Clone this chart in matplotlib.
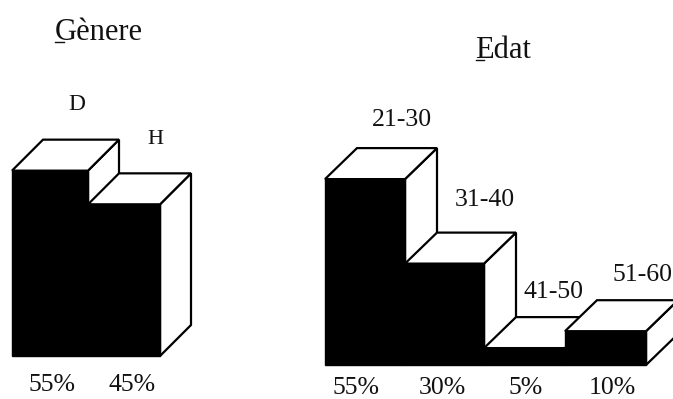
import matplotlib
matplotlib.use("Agg")
import matplotlib.pyplot as plt

plt.rcParams['font.family'] = ['Liberation Serif', 'DejaVu Serif']

gender_labels = ["D", "H"]
gender_values = [55, 45]
gender_pct = ["55%", "45%"]
age_labels = ["21-30", "31-40", "41-50", "51-60"]
age_values = [55, 30, 5, 10]
age_pct = ["55%", "30%", "5%", "10%"]

fig = plt.figure(figsize=(6.73, 3.99), dpi=100)
ax = fig.add_axes([0, 0, 1, 1])
ax.set_xlim(0, 673)
ax.set_ylim(399, 0)
ax.axis("off")


def bars3d(values, edges, base, scale, dx, dy):
    for i, value in enumerate(values):
        x0, x1 = edges[i], edges[i + 1]
        h = value * scale
        top = base - h
        z = 2 + 3 * i
        ax.fill([x1, x1 + dx, x1 + dx, x1], [top, top - dy, base - dy, base],
                facecolor="white", edgecolor="black", linewidth=1.6, zorder=z)
        ax.fill([x0, x0 + dx, x1 + dx, x1], [top, top - dy, top - dy, top],
                facecolor="white", edgecolor="black", linewidth=1.6, zorder=z)
        ax.bar(x0, h, width=x1 - x0, bottom=top, align="edge", color="black",
               edgecolor="black", linewidth=1.0, zorder=z + 1)


bars3d(gender_values, [12, 88, 160], 356, 3.37, 31, 31)
bars3d(age_values, [325, 405, 484, 565, 646], 365, 3.38, 32, 31)

fs = 18.5
ink = "#111111"
ax.text(99, 33, "Gènere", fontsize=22, ha="center", va="center", color=ink)
ax.text(503, 50, "Edat", fontsize=22, ha="center", va="center", color=ink)
ax.plot([55, 64], [42, 42], color=ink, linewidth=1.0)
ax.plot([476, 484], [60, 60], color=ink, linewidth=1.0)

for label, x, y, size in zip(gender_labels, [77, 155], [105, 139], [17, 16]):
    ax.text(x, y, label, fontsize=size, ha="center", va="center", color=ink)
for label, x, y in zip(age_labels, [402, 485, 553, 643], [120, 200, 292, 275]):
    ax.text(x, y, label, fontsize=fs, ha="center", va="center", color=ink)
for label, x in zip(gender_pct, [52, 132]):
    ax.text(x, 385, label, fontsize=fs, ha="center", va="center", color=ink)
for label, x in zip(age_pct, [356, 442, 526, 612]):
    ax.text(x, 388, label, fontsize=fs, ha="center", va="center", color=ink)

fig.savefig("out.png", dpi=100)
